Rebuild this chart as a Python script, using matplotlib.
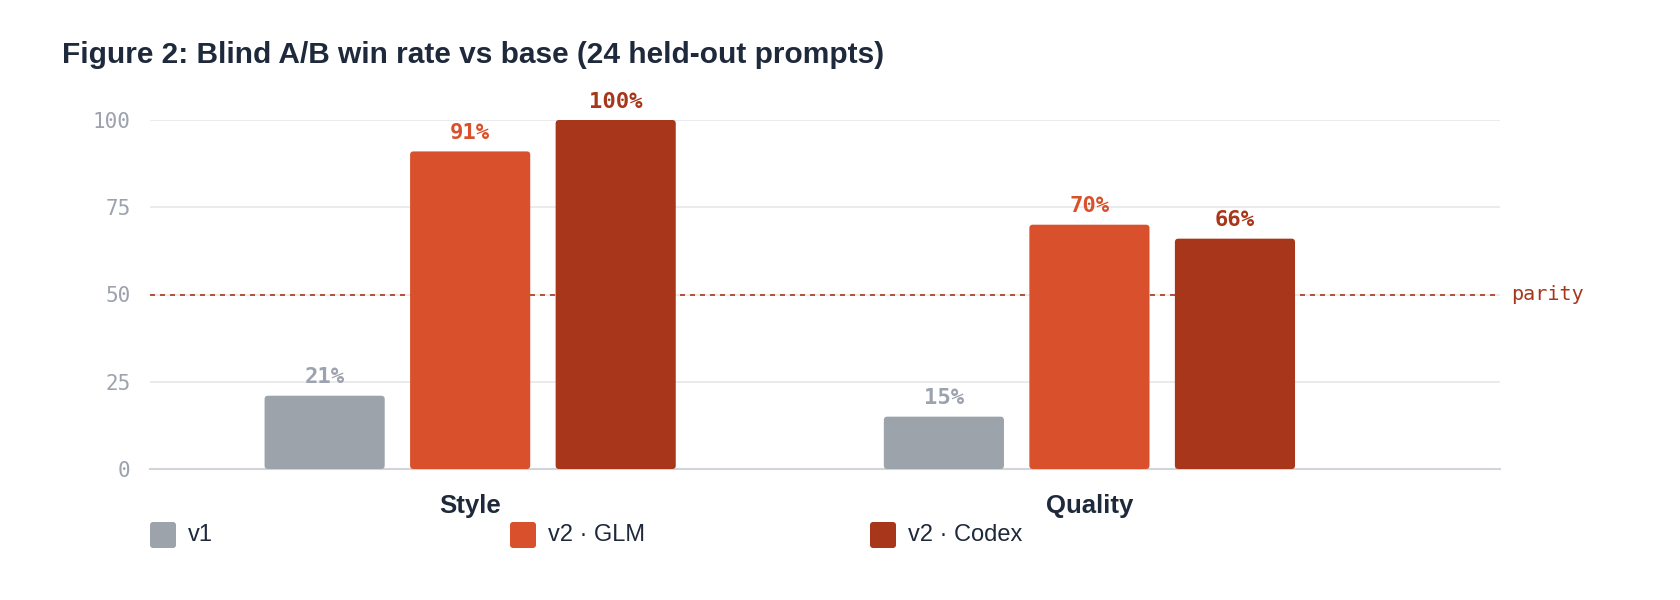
import matplotlib
matplotlib.use("Agg")
import matplotlib.pyplot as plt
from matplotlib.patches import FancyBboxPatch
import numpy as np

# data
categories = ["Style", "Quality"]
series = ["v1", "v2 · GLM", "v2 · Codex"]
v1 = [21, 15]
glm = [91, 70]
codex = [100, 66]
yticks = [0, 25, 50, 75, 100]
parity = 50

colors = ["#9ca3ab", "#d9512c", "#a8361b"]
label_colors = ["#9ca3af", "#d9512c", "#a8361b"]
dark = "#1e293b"
mono = "DejaVu Sans Mono"
sans = ["Liberation Sans", "DejaVu Sans"]

W, H = 1680, 600
fig = plt.figure(figsize=(W / 100, H / 100), dpi=100)
ax_l, ax_r, ax_b, ax_t = 150, 1500, 469, 120
ax = fig.add_axes([ax_l / W, 1 - ax_b / H, (ax_r - ax_l) / W, (ax_b - ax_t) / H])

xlim = (-0.517, 1.663)
ylim = (0, 100)
px_x = (ax_r - ax_l) / (xlim[1] - xlim[0])   # px per x unit
px_y = (ax_b - ax_t) / (ylim[1] - ylim[0])   # px per y unit
radius = 3.5 / px_x

x = np.arange(len(categories))
width = 0.194
step = 0.235
for i, (vals, c, lc) in enumerate(zip([v1, glm, codex], colors, label_colors)):
    pos = x + (i - 1) * step
    bars = ax.bar(pos, vals, width=width, color=c, zorder=3)
    for b, v in zip(bars, vals):
        b.set_visible(False)
        # rounded bar
        p = FancyBboxPatch((b.get_x(), 0), b.get_width(), v,
                           boxstyle=f"round,pad=0,rounding_size={radius}",
                           mutation_aspect=px_x / px_y,
                           fc=c, ec="none", zorder=3)
        ax.add_patch(p)
        ax.annotate(f"{v}%", (b.get_x() + b.get_width() / 2, v),
                    xytext=(0, 6), textcoords="offset points",
                    ha="center", va="bottom", fontsize=16, fontweight="bold",
                    family=mono, color=lc)

ax.set_xlim(*xlim)
ax.set_ylim(*ylim)
ax.set_yticks(yticks)
ax.set_yticklabels([str(t) for t in yticks], family=mono, fontsize=15, color="#9ca3af")
ax.tick_params(axis="y", length=0, pad=14)
ax.set_xticks(x)
ax.set_xticklabels(categories, fontsize=18.5, fontweight="bold", color=dark, family=sans)
ax.tick_params(axis="x", length=0, pad=18)
ax.grid(axis="y", color="#e5e7eb", lw=1.2, zorder=0)
for s in ["top", "right", "left"]:
    ax.spines[s].set_visible(False)
ax.spines["bottom"].set_color("#d1d5db")
ax.spines["bottom"].set_linewidth(1.5)

ax.axhline(parity, color="#a8361b", lw=1.2, ls=(0, (3, 3)), zorder=2)
ax.text(1.008, parity, "parity", transform=ax.get_yaxis_transform(),
        family=mono, fontsize=14.5, color="#a8361b", va="center", ha="left")

fig.text(62 / W, 1 - 55 / H, "Figure 2: Blind A/B win rate vs base (24 held-out prompts)",
         fontsize=21.5, fontweight="bold", color=dark, family=sans, va="center")

# legend
leg_x = [150, 510, 870]
leg_y = 535
sq = 26
for lx, name, c in zip(leg_x, series, colors):
    fig.patches.append(FancyBboxPatch(((lx) / W, 1 - (leg_y + sq / 2) / H), sq / W, sq / H,
                                      boxstyle=f"round,pad=0,rounding_size={3 / W}",
                                      mutation_aspect=W / H,
                                      transform=fig.transFigure, fc=c, ec="none"))
    fig.text((lx + sq + 12) / W, 1 - leg_y / H, name, fontsize=17, color=dark,
             family=sans, va="center", ha="left")

fig.savefig("out.png", dpi=100, facecolor="white")
